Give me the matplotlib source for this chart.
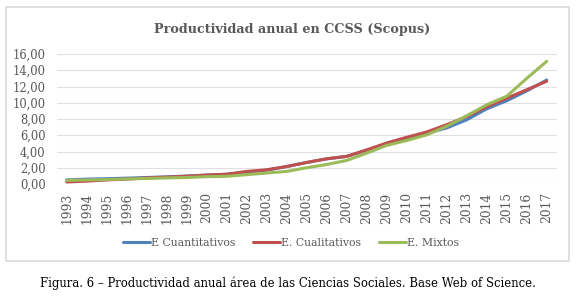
import numpy as np
import matplotlib
matplotlib.use('Agg')
import matplotlib.pyplot as plt
from matplotlib.patches import Rectangle

# datos
years = [str(y) for y in range(1993, 2018)]
cuantitativos = [0.50, 0.60, 0.65, 0.72, 0.80, 0.88, 0.98, 1.10, 1.20, 1.45, 1.70, 2.15, 2.65, 3.10, 3.40, 4.15, 4.95, 5.65, 6.25, 6.90, 7.90, 9.25, 10.25, 11.45, 12.80]
cualitativos = [0.25, 0.35, 0.50, 0.60, 0.75, 0.85, 0.95, 1.10, 1.20, 1.55, 1.75, 2.15, 2.65, 3.10, 3.40, 4.20, 5.05, 5.75, 6.40, 7.30, 8.30, 9.50, 10.55, 11.60, 12.65]
mixtos = [0.45, 0.50, 0.55, 0.62, 0.68, 0.75, 0.80, 0.90, 0.95, 1.15, 1.35, 1.55, 2.00, 2.40, 2.90, 3.80, 4.75, 5.35, 6.05, 7.10, 8.40, 9.75, 10.80, 13.00, 15.10]
labels = ['E Cuantitativos', 'E. Cualitativos', 'E. Mixtos']
colors = ['#4F81BD', '#C0504D', '#9BBB59']

W, H = 580, 297
fig = plt.figure(figsize=(W / 100, H / 100), dpi=100)
plt.rcParams['font.family'] = ['DejaVu Serif']
gray = '#595959'

# marco del grafico
fig.patches.append(Rectangle((6 / W, 1 - 261 / H), 563 / W, 254 / H,
                             transform=fig.transFigure, fill=False,
                             edgecolor='#D9D9D9', linewidth=1.2))

ax = fig.add_axes([56.7 / W, 1 - 184 / H, 500 / W, 130 / H])
x = np.arange(len(years))
for serie, lab, col in zip([cuantitativos, cualitativos, mixtos], labels, colors):
    ax.plot(x, serie, color=col, linewidth=2.2, label=lab, solid_capstyle='round')

ax.set_xlim(-0.5, len(years) - 0.5)
ax.set_ylim(0, 16)
ax.set_yticks(np.arange(0, 17, 2))
ax.set_yticklabels([f"{v:.2f}".replace('.', ',') for v in np.arange(0, 17, 2)])
ax.set_xticks(x)
ax.set_xticklabels(years, rotation=90)
ax.grid(axis='y', color='#E0E0E0', linewidth=0.8)
ax.set_axisbelow(True)
for s in ax.spines.values():
    s.set_visible(False)
ax.tick_params(axis='both', length=0, colors=gray)
ax.tick_params(axis='y', pad=8, labelsize=8.3)
ax.tick_params(axis='x', pad=6, labelsize=8.8)

fig.text(292 / W, 1 - 30 / H, 'Productividad anual en CCSS (Scopus)',
         ha='center', va='center', fontsize=9.2, fontweight='bold', color=gray)

ax.legend(loc='center', bbox_to_anchor=(291 / W, 1 - 243 / H), bbox_transform=fig.transFigure,
          ncol=3, frameon=False, fontsize=7.8, handlelength=2.5, handletextpad=0.1,
          columnspacing=1.6, labelcolor=gray)

fig.text(288 / W, 1 - 283 / H,
         'Figura. 6 \u2013 Productividad anual área de las Ciencias Sociales. Base Web of Science.',
         ha='center', va='center', fontsize=8.4, color='black')

fig.savefig('out.png', dpi=100)
